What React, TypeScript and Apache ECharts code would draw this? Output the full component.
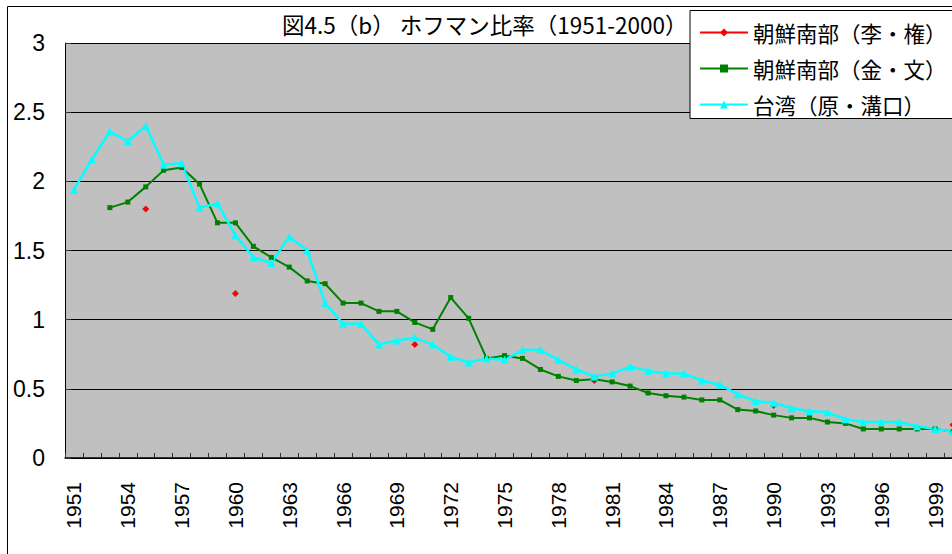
import React, { useEffect, useRef } from "react";
import * as echarts from "echarts";

const years: string[] = [];
for (let y = 1951; y <= 2000; y++) years.push(String(y));

const titleText = "図4.5（b） ホフマン比率（1951-2000）";
const seriesNames = ["朝鮮南部（李・権）", "朝鮮南部（金・文）", "台湾（原・溝口）"];

// 朝鮮南部（李・権）: only census-type years
const koreaLee: (number | null)[] = [
  null, null, null, null, 1.8, null, null, null, null, 1.19,
  null, null, null, null, null, null, null, null, null, 0.82,
  null, null, null, null, null, null, null, null, null, 0.56,
  null, null, null, null, null, null, null, null, null, 0.38,
  null, null, null, null, null, null, null, null, null, 0.24,
];

// 朝鮮南部（金・文）
const koreaKim: (number | null)[] = [
  null, null, 1.81, 1.85, 1.96, 2.08, 2.1, 1.98, 1.7, 1.7,
  1.53, 1.45, 1.38, 1.28, 1.26, 1.12, 1.12, 1.06, 1.06, 0.98,
  0.93, 1.16, 1.01, 0.72, 0.74, 0.72, 0.64, 0.59, 0.56, 0.57,
  0.55, 0.52, 0.47, 0.45, 0.44, 0.42, 0.42, 0.35, 0.34, 0.31,
  0.29, 0.29, 0.26, 0.25, 0.21, 0.21, 0.21, 0.21, 0.21, 0.19,
];

// 台湾（原・溝口）
const taiwan: number[] = [
  1.94, 2.16, 2.36, 2.29, 2.4, 2.12, 2.13, 1.81, 1.84, 1.61,
  1.45, 1.41, 1.6, 1.5, 1.12, 0.97, 0.97, 0.82, 0.85, 0.87,
  0.82, 0.73, 0.69, 0.72, 0.71, 0.78, 0.78, 0.71, 0.64, 0.59,
  0.61, 0.66, 0.63, 0.61, 0.61, 0.56, 0.53, 0.46, 0.41, 0.4,
  0.36, 0.34, 0.33, 0.28, 0.26, 0.26, 0.26, 0.23, 0.21, 0.19,
];

const CJK = "'Noto Sans CJK JP', sans-serif";
const LAT = "'Liberation Sans', Arial, sans-serif";

export default function App() {
  const ref = useRef<HTMLDivElement>(null);
  useEffect(() => {
    if (!ref.current) return;
    const chart = echarts.init(ref.current, null, { renderer: "svg" });
    chart.setOption({
      animation: false,
      backgroundColor: "#fff",
      title: {
        text: titleText,
        left: 282,
        top: 13,
        padding: 0,
        textStyle: { fontSize: 22.5, fontWeight: "normal", fontFamily: CJK, color: "#000" },
      },
      legend: {
        orient: "vertical",
        left: 690,
        top: 10.5,
        itemWidth: 48,
        itemHeight: 10,
        itemGap: 10,
        padding: [9, 20, 1, 9],
        borderColor: "#000",
        borderWidth: 1,
        backgroundColor: "#fff",
        textStyle: { fontSize: 21.5, fontFamily: CJK, color: "#000", lineHeight: 26 },
        data: seriesNames,
      },
      graphic: [
        {
          type: "rect",
          z: -10,
          shape: { x: 7.5, y: 6.5, width: 1300, height: 900 },
          style: { fill: "none", stroke: "#000", lineWidth: 1 },
          silent: true,
        },
      ],
      grid: {
        show: true,
        left: 65,
        right: 38,
        top: 43,
        bottom: 96,
        backgroundColor: "#c0c0c0",
        borderWidth: 0,
      },
      xAxis: {
        type: "category",
        data: years,
        boundaryGap: true,
        axisLine: { show: true, lineStyle: { color: "#000", width: 1.5 } },
        axisTick: { show: true, inside: true, length: 5, interval: 0, lineStyle: { color: "#333" } },
        axisLabel: {
          interval: 2,
          rotate: 90,
          margin: 24,
          fontSize: 21,
          fontFamily: LAT,
          color: "#000",
        },
        splitLine: { show: false },
      },
      yAxis: {
        type: "value",
        min: 0,
        max: 3,
        interval: 0.5,
        axisLine: { show: true, lineStyle: { color: "#000", width: 1 } },
        axisTick: { show: true, inside: true, length: 6, lineStyle: { color: "#333" } },
        axisLabel: { margin: 20, fontSize: 23, fontFamily: LAT, color: "#000" },
        splitLine: { show: true, lineStyle: { color: "#000", width: 1 } },
      },
      series: [
        {
          name: seriesNames[0],
          type: "line",
          data: koreaLee,
          connectNulls: false,
          symbol: "diamond",
          symbolSize: 7,
          showAllSymbol: true,
          itemStyle: { color: "#ff0000" },
          lineStyle: { color: "#ff0000", width: 1.5 },
        },
        {
          name: seriesNames[1],
          type: "line",
          data: koreaKim,
          symbol: "rect",
          symbolSize: 5,
          showAllSymbol: true,
          itemStyle: { color: "#008000" },
          lineStyle: { color: "#008000", width: 2 },
        },
        {
          name: seriesNames[2],
          type: "line",
          data: taiwan,
          symbol: "triangle",
          symbolSize: 8,
          showAllSymbol: true,
          itemStyle: { color: "#00ffff" },
          lineStyle: { color: "#00ffff", width: 2.5 },
        },
      ],
    });
    return () => chart.dispose();
  }, []);
  return (
    <div
      style={{ position: "absolute", left: 0, top: 0, width: 952, height: 554, overflow: "hidden", background: "#fff" }}
    >
      <div ref={ref} style={{ width: 1000, height: 554 }} />
    </div>
  );
}
